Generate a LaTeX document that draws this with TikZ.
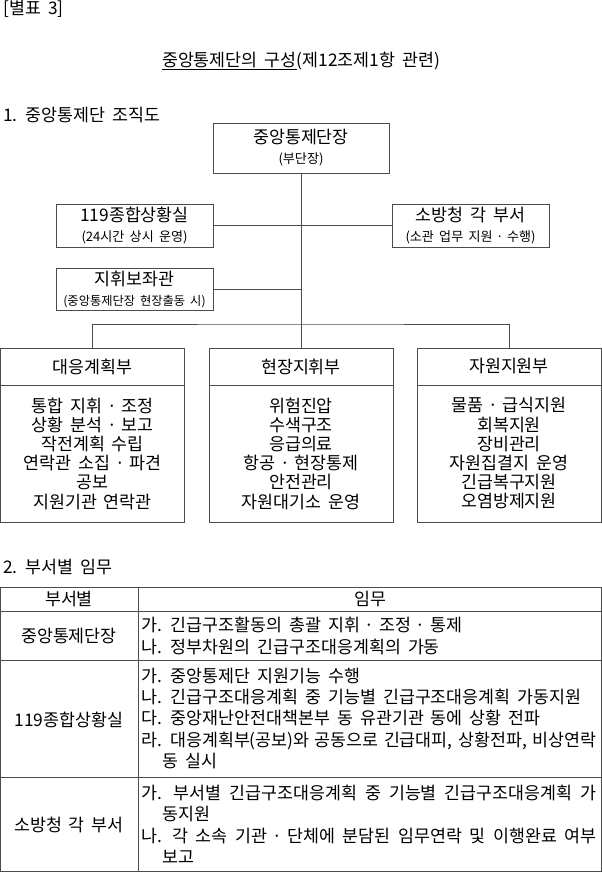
\documentclass[tikz,border=0pt]{standalone}
\usepackage{fontspec}
\setmainfont{Noto Sans CJK KR}[WordSpace=1.8]
\newcommand{\subsz}{\fontsize{9.8}{15}\selectfont}
\newcommand{\jdot}{\makebox[0.3em]{·}}
\newlength{\colw}\setlength{\colw}{341pt}

\begin{document}
\begin{tikzpicture}[x=0.75pt, y=-0.75pt,
    line/.style={draw=black!70, line width=0.75pt},
    box/.style={line, rectangle, inner sep=0pt, align=center, font=\fontsize{13}{15}\selectfont},
    txt/.style={inner sep=0pt, font=\fontsize{13}{14.4}\selectfont},
    cell/.style={txt, align=left, anchor=west, font=\fontsize{13}{16.1}\selectfont}]
    \useasboundingbox (0,0) rectangle (602,872);

    % Headings
    \node[txt, anchor=west] (note) at (3,9) {[별표 3]};
    \node[txt] (title) at (301,61) {\underline{중앙통제단의 구성}(제12조제1항 관련)};
    \node[txt, anchor=west] (sec1) at (3,115) {1. 중앙통제단 조직도};

    % Org chart, top part
    \node[box, minimum width=132pt, minimum height=37.5pt] (chief) at (301,148) {중앙통제단장\\{\subsz (부단장)}};
    \node[box, minimum width=117.75pt, minimum height=32.25pt] (sitroom) at (134.5,225.5) {119종합상황실\\{\subsz (24시간 상시 운영)}};
    \node[box, minimum width=117.75pt, minimum height=32.25pt] (depts) at (470.5,225.5) {소방청 각 부서\\{\subsz (소관 업무 지원 \jdot{} 수행)}};
    \node[box, minimum width=117.75pt, minimum height=31.5pt] (aide) at (134.5,289) {지휘보좌관\\{\fontsize{9.2}{15}\selectfont (중앙통제단장 현장출동 시)}};

    % Org chart, three sections
    \node[box, minimum width=138pt, minimum height=27.75pt] (hd1) at (92.5,366.5) {대응계획부};
    \node[box, minimum width=138pt, minimum height=27.75pt] (hd2) at (301,366.5) {현장지휘부};
    \node[box, minimum width=138pt, minimum height=27.75pt] (hd3) at (509,366.5) {자원지원부};
    \node[box, minimum width=138pt, minimum height=102.75pt, font=\fontsize{13}{14.4}\selectfont] (bd1) at (92.5,453.5)
        {통합 지휘 \jdot{} 조정\\상황 분석 \jdot{} 보고\\작전계획 수립\\연락관 소집 \jdot{} 파견\\공보\\지원기관 연락관};
    \node[box, minimum width=138pt, minimum height=102.75pt, font=\fontsize{13}{14.4}\selectfont] (bd2) at (301,453.5)
        {위험진압\\수색구조\\응급의료\\항공 \jdot{} 현장통제\\안전관리\\자원대기소 운영};
    \node[box, minimum width=138pt, minimum height=102.75pt, font=\fontsize{13}{14.4}\selectfont] (bd3) at (509,453.5)
        {물품 \jdot{} 급식지원\\회복지원\\장비관리\\자원집결지 운영\\긴급복구지원\\오염방제지원};

    % Connectors
    \coordinate (bar) at (301,324);
    \draw[line] (chief.south) -- (hd2.north);
    \draw[line] (sitroom.east) -- (depts.west);
    \draw[line] (aide.east) -- (aide.east -| chief.south);
    \draw[line] (hd1.north) |- (bar) -| (hd3.north);

    % Duties table
    \node[txt, anchor=west] (sec2) at (3,567) {2. 부서별 임무};
    \draw[line] (0.5,587) rectangle (601.5,871);
    \draw[line] (138,587) -- (138,871);
    \foreach \yy in {611,660,777}
        \draw[line] (0.5,\yy) -- (601.5,\yy);

    \node[txt] (colA) at (69,599) {부서별};
    \node[txt] (colB) at (370,599) {임무};

    \node[txt] (unit1) at (69,636) {중앙통제단장};
    \node[cell] (duty1) at (141.5,636)
        {가. 긴급구조활동의 총괄 지휘 \jdot{} 조정 \jdot{} 통제\\나. 정부차원의 긴급구조대응계획의 가동};

    \node[txt] (unit2) at (69,720) {119종합상황실};
    \node[cell] (duty2) at (141.5,718.5)
        {가. 중앙통제단 지원기능 수행\\
         나. 긴급구조대응계획 중 기능별 긴급구조대응계획 가동지원\\
         다. 중앙재난안전대책본부 동 유관기관 동에 상황 전파\\
         \makebox[\colw][s]{라. 대응계획부(공보)와 공동으로 긴급대피, 상황전파, 비상연락}\\
         \hspace*{15.75pt}동 실시};

    \node[txt] (unit3) at (69,825) {소방청 각 부서};
    \node[cell] (duty3) at (141.5,824.5)
        {\makebox[\colw][s]{가. 부서별 긴급구조대응계획 중 기능별 긴급구조대응계획 가}\\
         \hspace*{15.75pt}동지원\\
         \makebox[\colw][s]{나. 각 소속 기관 \jdot{} 단체에 분담된 임무연락 및 이행완료 여부}\\
         \hspace*{15.75pt}보고};
\end{tikzpicture}
\end{document}
